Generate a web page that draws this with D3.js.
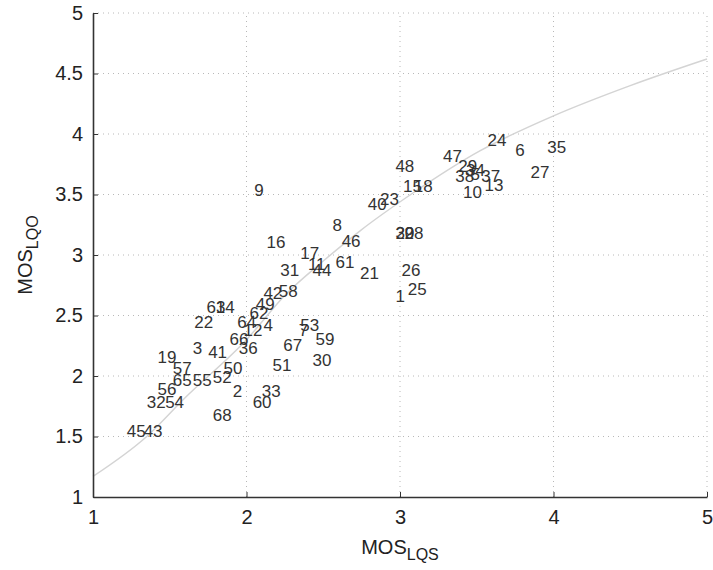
<!DOCTYPE html>
<html>
<head>
<meta charset="utf-8">
<script src="https://cdn.jsdelivr.net/npm/d3@7.9.0/dist/d3.min.js"></script>
<style>
  body { margin: 0; background: #fff; }
  svg { font-family: "Liberation Sans", Arial, sans-serif; }
</style>
</head>
<body>
<svg id="chart" width="713" height="570"></svg>
<script>
// labels of the sound samples and their positions (MOS_LQS, MOS_LQO)
const ids = d3.range(1, 69);
const lqs = [2.97, 1.91, 1.65, 2.11, 3.46, 3.75, 2.34, 2.56, 2.05, 3.41,
             2.40, 1.98, 3.55, 1.80, 3.02, 2.13, 2.35, 3.09, 1.42, 2.97,
             2.74, 1.66, 2.87, 3.57, 3.05, 3.01, 3.85, 3.03, 3.38, 2.43,
             2.22, 1.35, 2.10, 3.43, 3.96, 1.95, 3.53, 3.36, 2.97, 2.79,
             1.75, 2.11, 1.33, 2.43, 1.22, 2.62, 3.28, 2.97, 2.06, 1.85,
             2.17, 1.78, 2.35, 1.47, 1.65, 1.42, 1.52, 2.21, 2.45, 2.04,
             2.58, 2.02, 1.74, 1.94, 1.52, 1.89, 2.24, 1.78];
const lqo = [2.66, 1.88, 2.23, 2.42, 3.67, 3.87, 2.38, 3.25, 3.54, 3.52,
             2.93, 2.38, 3.58, 2.57, 3.57, 3.11, 3.02, 3.57, 2.16, 3.18,
             2.85, 2.45, 3.46, 3.95, 2.72, 2.88, 3.69, 3.18, 3.74, 2.13,
             2.88, 1.79, 1.88, 3.70, 3.89, 2.23, 3.65, 3.65, 3.18, 3.42,
             2.20, 2.69, 1.55, 2.88, 1.55, 3.12, 3.82, 3.74, 2.60, 2.07,
             2.09, 1.99, 2.42, 1.79, 1.97, 1.89, 2.07, 2.70, 2.31, 1.79,
             2.94, 2.52, 2.57, 2.45, 1.97, 2.31, 2.26, 1.68];

// mapping curve
const fitX = [1.0, 1.35, 1.6, 2.0, 2.26, 2.5, 2.74, 3.07, 3.52, 4.0, 4.5, 5.0];
const fitY = [1.17, 1.50, 1.82, 2.30, 2.68, 2.95, 3.20, 3.50, 3.86, 4.15, 4.40, 4.62];

const xTicks = [1, 2, 3, 4, 5];
const yTicks = [1, 1.5, 2, 2.5, 3, 3.5, 4, 4.5, 5];

const svg = d3.select('#chart');
const margin = { left: 93, right: 6, top: 13, bottom: 73 };
const W = 713, H = 570;

const x = d3.scaleLinear().domain([1, 5]).range([margin.left, W - margin.right]);
const y = d3.scaleLinear().domain([1, 5]).range([H - margin.bottom, margin.top]);

// dotted grid
const grid = svg.append('g').attr('stroke', '#b8b8b8').attr('stroke-width', 1)
  .attr('stroke-dasharray', '1,4');
xTicks.slice(1).forEach(t => {
  grid.append('line').attr('x1', x(t)).attr('x2', x(t)).attr('y1', y(1)).attr('y2', y(5));
});
yTicks.slice(1).forEach(t => {
  grid.append('line').attr('x1', x(1)).attr('x2', x(5)).attr('y1', y(t)).attr('y2', y(t));
});

// fitted curve
const fit = fitX.map((v, i) => [v, fitY[i]]);
svg.append('path')
  .datum(fit)
  .attr('fill', 'none')
  .attr('stroke', '#d4d4d4')
  .attr('stroke-width', 1.5)
  .attr('d', d3.line().x(d => x(d[0])).y(d => y(d[1])).curve(d3.curveMonotoneX));

// axes
const xAxis = svg.append('g')
  .attr('transform', `translate(0,${y(1)})`)
  .call(d3.axisBottom(x).tickValues(xTicks).tickFormat(d3.format('d')).tickSizeInner(-5).tickSizeOuter(0).tickPadding(13));
const yAxis = svg.append('g')
  .attr('transform', `translate(${x(1)},0)`)
  .call(d3.axisLeft(y).tickValues(yTicks).tickFormat(d => d).tickSizeInner(-5).tickSizeOuter(0).tickPadding(10));

[xAxis, yAxis].forEach(a => {
  a.select('.domain').attr('stroke', '#333').attr('stroke-width', 1.6);
  a.selectAll('.tick line').attr('stroke', '#333');
  a.selectAll('.tick text').attr('fill', '#222').attr('font-size', 20)
    .attr('font-family', '"Liberation Sans Narrow", "Liberation Sans", Arial, sans-serif');
});

// point labels
svg.append('g')
  .selectAll('text')
  .data(ids)
  .join('text')
  .attr('x', (d, i) => x(lqs[i]))
  .attr('y', (d, i) => y(lqo[i]))
  .attr('dy', '0.36em')
  .attr('font-size', 17)
  .attr('fill', '#333')
  .text(d => d);

// axis titles
const xl = svg.append('text')
  .attr('x', x(3)).attr('y', 554)
  .attr('text-anchor', 'middle')
  .attr('font-size', 20).attr('fill', '#222');
xl.append('tspan').text('MOS');
xl.append('tspan').attr('font-size', 16).attr('dy', 6).text('LQS');

const yl = svg.append('text')
  .attr('transform', `translate(32,${y(3)}) rotate(-90)`)
  .attr('text-anchor', 'middle')
  .attr('font-size', 20).attr('fill', '#222');
yl.append('tspan').text('MOS');
yl.append('tspan').attr('font-size', 16).attr('dy', 6).text('LQO');
</script>
</body>
</html>
